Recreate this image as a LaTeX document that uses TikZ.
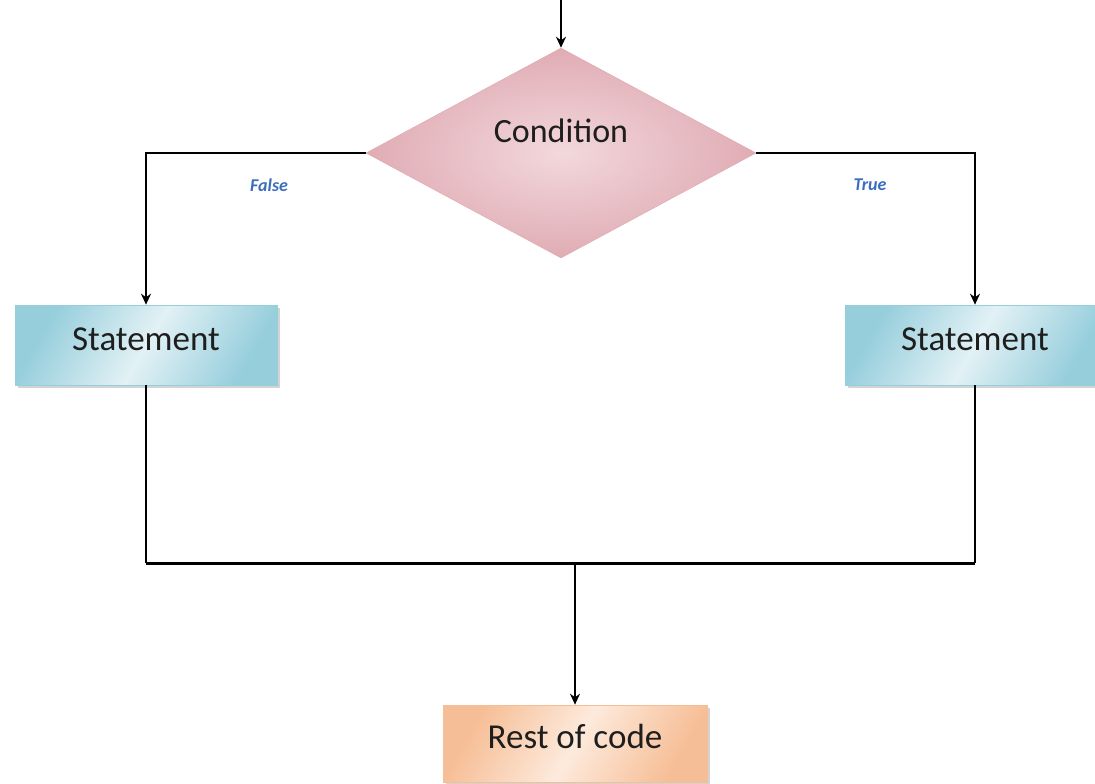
\documentclass[tikz,border=0pt]{standalone}
\usepackage{fontspec}
\setmainfont{Carlito}
\usetikzlibrary{shapes.geometric,arrows.meta,shadows}
\definecolor{pinkedge}{RGB}{224,172,180}
\definecolor{pinkmid}{RGB}{242,216,220}
\definecolor{blueedge}{RGB}{150,206,220}
\definecolor{bluemid}{RGB}{226,241,245}
\definecolor{orangeedge}{RGB}{246,190,150}
\definecolor{orangemid}{RGB}{253,234,220}
\definecolor{labelblue}{RGB}{60,110,190}
\definecolor{txt}{RGB}{30,30,30}
\begin{document}
\begin{tikzpicture}[x=1pt,y=-1pt,
  flow/.style={draw=black,line width=2pt},
  arr/.style={flow,-{Stealth[length=11pt,width=10pt]}},
  decision/.style={diamond,draw=pinkedge,line width=0.5pt,inner sep=0pt,
    minimum width=390pt,minimum height=210pt,aspect=1.857,
    inner color=pinkmid,outer color=pinkedge},
  stmtbox/.style={rectangle,draw=blueedge,line width=0.6pt,inner sep=0pt,
    minimum height=80pt,text=txt,font=\fontsize{35}{40}\selectfont,
    left color=blueedge,right color=blueedge,middle color=bluemid,shading angle=60,
    drop shadow={shadow xshift=3pt,shadow yshift=-3pt,opacity=0.35,fill=gray}},
  restbox/.style={rectangle,draw=orangeedge,line width=0.6pt,inner sep=0pt,
    minimum width=264pt,minimum height=77pt,text=txt,font=\fontsize{35}{40}\selectfont,
    left color=orangeedge,right color=orangeedge,middle color=orangemid,shading angle=60,
    drop shadow={shadow xshift=3pt,shadow yshift=-3pt,opacity=0.35,fill=gray}},
  branchlabel/.style={text=labelblue,font=\fontsize{18}{20}\selectfont\bfseries\itshape}
]
\path[use as bounding box] (0,0) rectangle (1095,784);

\coordinate (start) at (561,0);
\node[decision,label={[text=txt,font=\fontsize{34}{40}\selectfont,yshift=22pt]center:Condition}] (cond) at (561,153) {};
\node[stmtbox,minimum width=262pt] (lstmt) at (146,345) {\raisebox{12pt}{Statement}};
\node[stmtbox,minimum width=260pt] (rstmt) at (975,345) {\raisebox{12pt}{Statement}};
\node[restbox] (rest) at (575,743.5) {\raisebox{14pt}{Rest of code}};
\coordinate (merge) at (575,563);

\node[branchlabel] (lf) at (269,185) {False};
\node[branchlabel] (lt) at (870,185) {True};

\draw[arr] (start) -- (cond.north);
\draw[arr] (cond.west) -| (lstmt.north);
\draw[arr] (cond.east) -| (rstmt.north);
\draw[flow] (lstmt.south) -- (lstmt.south |- merge);
\draw[flow] (rstmt.south) -- (rstmt.south |- merge);
\draw[draw=black,line width=3pt] (lstmt.south |- merge) -- (rstmt.south |- merge);
\draw[arr] (merge) -- (rest.north);
\end{tikzpicture}
\end{document}
